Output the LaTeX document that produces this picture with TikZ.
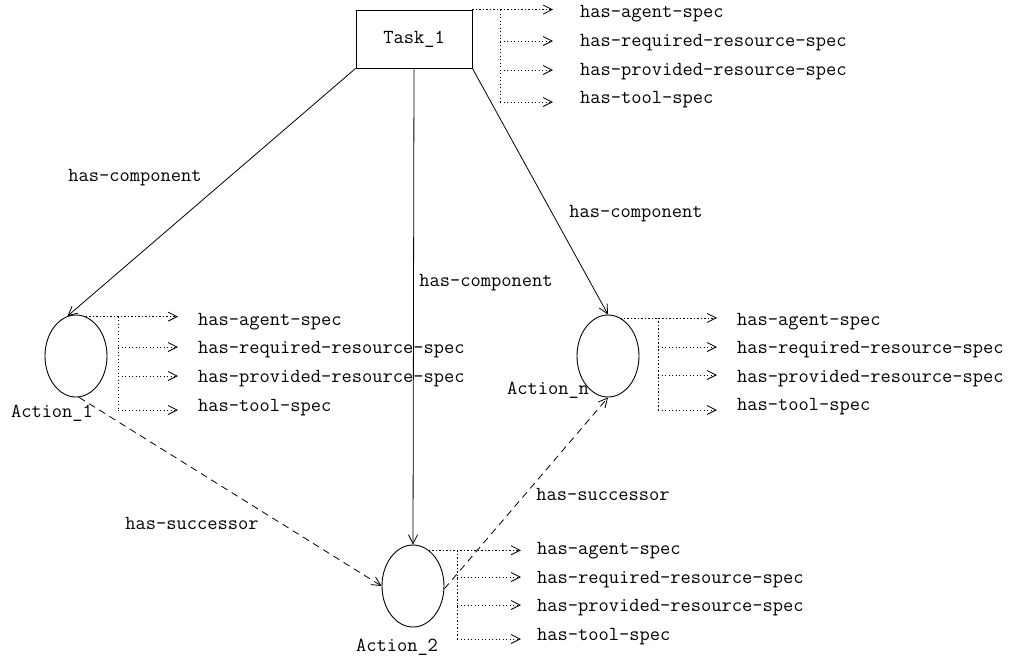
\documentclass[tikz,border=0pt]{standalone}
\usepackage{fontspec}
\usetikzlibrary{shapes.geometric,arrows.meta}
\begin{document}
\begin{tikzpicture}[x=1pt,y=-1pt,
  font=\ttfamily\fontsize{19.9}{22}\selectfont,
  every node/.style={inner sep=0pt},
  taskbox/.style={draw,rectangle,minimum width=116pt,minimum height=58pt,line width=0.9pt},
  act/.style={draw,ellipse,minimum width=62pt,minimum height=82pt,line width=0.9pt},
  spectext/.style={anchor=west},
  tip/.style={-{Straight Barb[length=9pt,width=9pt]}},
  comp/.style={tip,line width=0.8pt},
  spec/.style={dash pattern=on 1.3pt off 2.2pt,line width=0.8pt},
  specarrow/.style={spec,tip,shorten >=#1},
  specarrow/.default=20pt,
  succ/.style={tip,dash pattern=on 7pt off 5pt,line width=0.8pt},
]
\useasboundingbox (0,0) rectangle (1010,657);

% main nodes
\node[taskbox] (Task) at (414,39) {\raisebox{-6pt}{Task\_1}\hspace{24pt}};
\node[act] (A1) at (76,356) {};
\node[act] (An) at (608,356) {};
\node[act] (A2) at (413,586) {};
\node (l1) at (52,413) {Action\_1};
\node (ln) at (548,390) {Action\_n};
\node (l2) at (397,647) {Action\_2};

% has-component
\draw[comp] (Task.south west) -- (A1.102);
\draw[comp] (Task.south) -- (A2.north);
\draw[comp] (Task.south east) -- (An.north);
\node (lc1) at (135,178) {has-component};
\node (lc2) at (486,283) {has-component};
\node (lc3) at (636,214) {has-component};

% has-successor
\draw[succ] (A1.-86) -- (A2.west);
\draw[succ] (A2.-5) -- (An.south);
\node (ls1) at (192,523) {has-successor};
\node (ls2) at (603,494) {has-successor};

% Task specs
\node[spectext] (tA) at (580,14) {has-agent-spec};
\node[spectext] (tR) at (580,43) {has-required-resource-spec};
\node[spectext] (tP) at (580,72) {has-provided-resource-spec};
\node[spectext] (tT) at (580,100) {has-tool-spec};
\coordinate (tj1) at (500,10);
\coordinate (tj2) at (500,41);
\coordinate (tj3) at (500,70);
\coordinate (tj4) at (500,102);
\draw[specarrow=27pt] (Task.north east) -- (Task.north east -| tA.west);
\draw[spec] (tj1) -- (tj4);
\draw[specarrow=27pt] (tj2) -- (tj2 -| tR.west);
\draw[specarrow=27pt] (tj3) -- (tj3 -| tP.west);
\draw[specarrow=27pt] (tj4) -- (tj4 -| tT.west);

% Action_1 specs
\node[spectext] (aA) at (198,322) {has-agent-spec};
\node[spectext] (aR) at (198,350) {has-required-resource-spec};
\node[spectext] (aP) at (198,379) {has-provided-resource-spec};
\node[spectext] (aT) at (198,408) {has-tool-spec};
\coordinate (aj0) at (A1.76);
\coordinate (aj1) at (118,317);
\coordinate (aj2) at (118,347);
\coordinate (aj3) at (118,376);
\coordinate (aj4) at (118,410);
\draw[specarrow] (aj0) -- (aj0 -| aA.west);
\draw[spec] (aj0 -| aj1) -- (aj4);
\draw[specarrow] (aj2) -- (aj2 -| aR.west);
\draw[specarrow] (aj3) -- (aj3 -| aP.west);
\draw[specarrow] (aj4) -- (aj4 -| aT.west);

% Action_n specs
\node[spectext] (nA) at (737,322) {has-agent-spec};
\node[spectext] (nR) at (737,350) {has-required-resource-spec};
\node[spectext] (nP) at (737,379) {has-provided-resource-spec};
\node[spectext] (nT) at (737,407) {has-tool-spec};
\coordinate (nj0) at (An.72);
\coordinate (nj1) at (658,318);
\coordinate (nj2) at (658,347);
\coordinate (nj3) at (658,375);
\coordinate (nj4) at (658,410);
\draw[specarrow] (nj0) -- (nj0 -| nA.west);
\draw[spec] (nj0 -| nj1) -- (nj4);
\draw[specarrow] (nj2) -- (nj2 -| nR.west);
\draw[specarrow] (nj3) -- (nj3 -| nP.west);
\draw[specarrow] (nj4) -- (nj4 -| nT.west);

% Action_2 specs
\node[spectext] (bA) at (537,551) {has-agent-spec};
\node[spectext] (bR) at (537,580) {has-required-resource-spec};
\node[spectext] (bP) at (537,608) {has-provided-resource-spec};
\node[spectext] (bT) at (537,637) {has-tool-spec};
\coordinate (bj0) at (A2.66);
\coordinate (bj1) at (457,548);
\coordinate (bj2) at (457,577);
\coordinate (bj3) at (457,605);
\coordinate (bj4) at (457,639);
\draw[specarrow=16pt] (bj0) -- (bj0 -| bA.west);
\draw[spec] (bj0 -| bj1) -- (bj4);
\draw[specarrow=16pt] (bj2) -- (bj2 -| bR.west);
\draw[specarrow=16pt] (bj3) -- (bj3 -| bP.west);
\draw[specarrow=16pt] (bj4) -- (bj4 -| bT.west);
\end{tikzpicture}
\end{document}
